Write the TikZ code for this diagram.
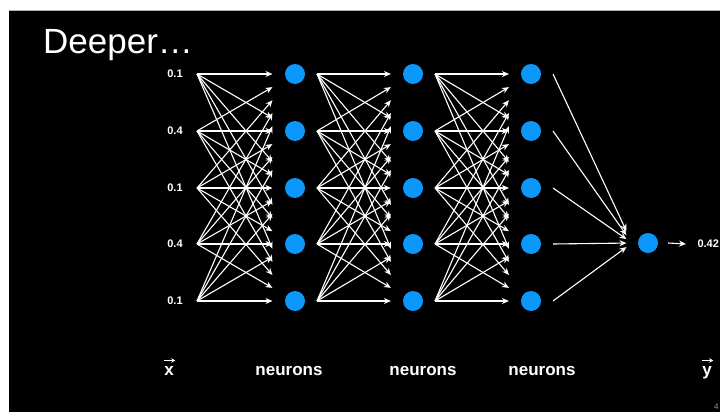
\documentclass[tikz,border=0pt]{standalone}
\usepackage{fontspec}
\setmainfont{Liberation Sans}
\usetikzlibrary{arrows.meta,calc}
\definecolor{neuronblue}{RGB}{12,152,250}
\begin{document}
\begin{tikzpicture}[x=1pt, y=-1pt,
		neuron/.style={circle, fill=neuronblue, minimum size=20pt, inner sep=0pt},
		val/.style={text=white, font=\bfseries\fontsize{11}{13}\selectfont},
		lbl/.style={text=white, anchor=base, font=\bfseries\fontsize{17}{20}\selectfont},
		conn/.style={white, line width=1.1pt, -{Stealth[length=7pt,width=6pt]}},
		vecarrow/.style={white, line width=1.2pt, -{Stealth[length=4pt,width=4.5pt]}}]
		
		\useasboundingbox (0,0) rectangle (720,412);
		\fill[white] (0,0) rectangle (720,412);
		\fill[black] (9,10) rectangle (720,412);
		\draw[gray!60, line width=0.8pt] (9,10) -- (720,10);
		
		\node[text=white, anchor=base west, inner sep=0pt, font=\fontsize{35}{40}\selectfont] (title) at (43,53) {Deeper\ldots};
		
		% input values and hidden neurons
		\foreach \i/\y/\v in {1/74/0.1, 2/131/0.4, 3/188/0.1, 4/244/0.4, 5/301/0.1} {
			\node[val] (in\i) at (175,\y) {\v};
			\coordinate (s0-\i) at (197,\y);
			\foreach \l/\x in {1/295, 2/413, 3/531} {
				\node[neuron] (h\l-\i) at (\x,\y) {};
				\coordinate (s\l-\i) at (\x+22,\y);
			}
		}
		
		% fully connected layers
		\foreach \l/\m in {0/1, 1/2, 2/3}
		\foreach \i in {1,...,5}
		\foreach \j in {1,...,5}
		\draw[conn] (s\l-\i) -- ($(s\l-\i)!0.77!(h\m-\j)$);
		
		% output
		\node[neuron] (out) at (648,243) {};
		\coordinate (outin) at (632,243);
		\foreach \i in {1,...,5}
		\draw[conn] (s3-\i) -- ($(s3-\i)!0.93!(outin)$);
		\node[val, anchor=west] (yval) at (694,244) {0.42};
		\draw[conn] ($(out.east)+(10,0)$) -- ($(yval.west)+(-8,0)$);
		
		% bottom labels
		\node[lbl] (xvec) at (169,375) {x};
		\node[lbl] (n1) at (289,375) {neurons};
		\node[lbl] (n2) at (423,375) {neurons};
		\node[lbl] (n3) at (542,375) {neurons};
		\node[lbl] (yvec) at (707,375) {y};
		\draw[vecarrow] ($(xvec.north west)+(3,-2)$) -- ($(xvec.north east)+(-2,-2)$);
		\draw[vecarrow] ($(yvec.north west)+(3,-2)$) -- ($(yvec.north east)+(-2,-2)$);
		\node[text=gray!80, anchor=base west, inner sep=0pt, font=\fontsize{8}{9}\selectfont] (page) at (714,409) {4};
\end{tikzpicture}
\end{document}
